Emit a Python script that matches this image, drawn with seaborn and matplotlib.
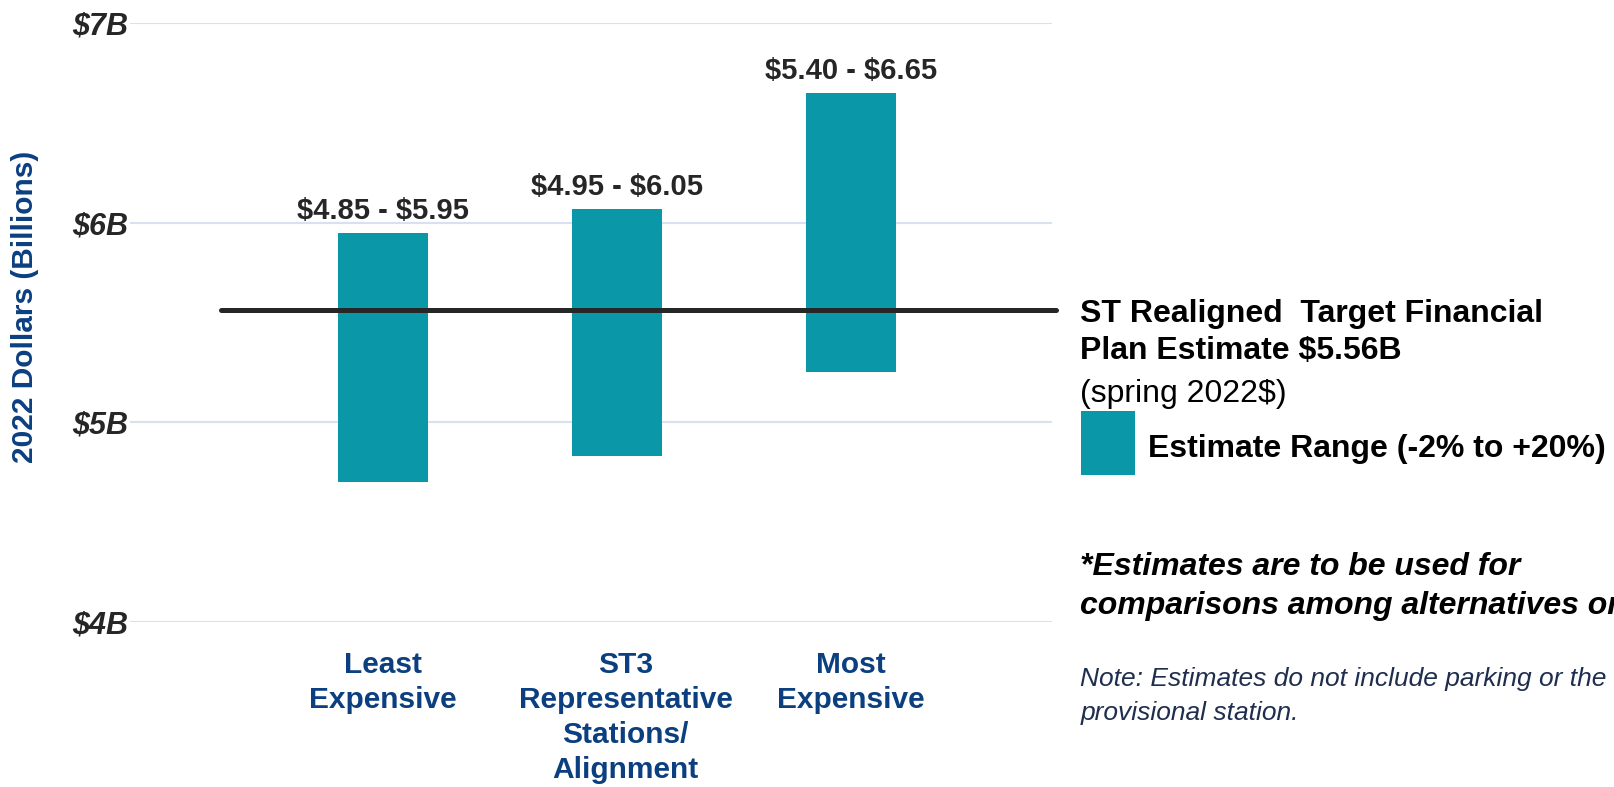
import numpy as np
import matplotlib
matplotlib.use("Agg")
import matplotlib.pyplot as plt
import matplotlib.transforms as mtransforms
from matplotlib.patches import Rectangle
import seaborn as sns

# chart values
categories = ["Least\nExpensive", "ST3\nRepresentative\nStations/\nAlignment", "Most\nExpensive"]
range_labels = ["$4.85 - $5.95", "$4.95 - $6.05", "$5.40 - $6.65"]
bar_low = [4.70, 4.83, 5.25]
bar_high = [5.95, 6.07, 6.65]
target_estimate = 5.56
y_ticks = [4, 5, 6, 7]
y_tick_labels = ["$4B", "$5B", "$6B", "$7B"]

TEAL = "#0A98A8"
NAVY = "#0B3F80"
DARK = "#262626"

sns.set_style("whitegrid", {"grid.color": "#D9E0F1", "axes.edgecolor": "white"})
plt.rcParams["font.family"] = ["Liberation Sans", "DejaVu Sans"]

fig = plt.figure(figsize=(16.15, 7.87), dpi=100)
ax = fig.add_axes([0.0805, 0.2097, 0.5709, 0.7611])

heights = [h - l for h, l in zip(bar_high, bar_low)]
sns.barplot(x=categories, y=heights, bottom=bar_low, color=TEAL, saturation=1,
            width=0.385, errorbar=None, ax=ax, linewidth=0)

ax.set_ylim(4, 7)
ax.set_xlim(-1.08, 2.86)
ax.set_yticks(y_ticks)
ax.set_yticklabels(y_tick_labels, fontsize=22, fontweight="bold", fontstyle="italic", color=DARK)
ax.tick_params(axis="y", length=0, pad=1)
ax.tick_params(axis="x", length=0, pad=21)
for lab in ax.get_xticklabels():
    lab.set_fontsize(21.5)
    lab.set_fontweight("bold")
    lab.set_color(NAVY)
    lab.set_linespacing(1.32)
# middle label sits a little right of its bar in the original
mid = ax.get_xticklabels()[1]
mid.set_transform(mid.get_transform() + mtransforms.ScaledTranslation(0.09, 0, fig.dpi_scale_trans))

ax.grid(axis="y", linewidth=1.5)
ax.grid(axis="x", visible=False)
for s in ax.spines.values():
    s.set_visible(False)
ax.set_xlabel("")
ax.set_ylabel("")

# range labels above each bar
for i, txt in enumerate(range_labels):
    ax.annotate(txt, (i, bar_high[i]), xytext=(0, 5.5), textcoords="offset points",
                ha="center", va="bottom", fontsize=21, fontweight="bold", color=DARK,
                parse_math=False)

# target line
ax.axhline(target_estimate, xmin=0.099, xmax=1.004, color=DARK, linewidth=3.6, clip_on=False, zorder=5)

fig.text(0.0155, 0.610, "2022 Dollars (Billions)", rotation=90, ha="center", va="center",
         fontsize=21.5, fontweight="bold", color=NAVY)

# legend / notes on the right
tx = 0.669
fig.text(tx, 0.6008, "ST Realigned  Target Financial", fontsize=23, fontweight="bold", color="black", va="center")
fig.text(tx, 0.5538, "Plan Estimate $5.56B", fontsize=23, fontweight="bold", color="black", va="center")
fig.text(tx, 0.4992, "(spring 2022$)", fontsize=23, color="black", va="center")
fig.patches.append(Rectangle((0.6693, 0.3964), 0.0334, 0.0813, transform=fig.transFigure,
                             facecolor=TEAL, edgecolor="none"))
fig.text(0.7108, 0.4293, "Estimate Range (-2% to +20%)", fontsize=23, fontweight="bold",
         color="black", va="center")
fig.text(tx, 0.2794, "*Estimates are to be used for", fontsize=23, fontweight="bold",
         fontstyle="italic", color="black", va="center")
fig.text(tx, 0.2298, "comparisons among alternatives only.", fontsize=23, fontweight="bold",
         fontstyle="italic", color="black", va="center")
fig.text(tx, 0.1368, "Note: Estimates do not include parking or the", fontsize=19,
         fontstyle="italic", color="#1F2E4E", va="center")
fig.text(tx, 0.0936, "provisional station.", fontsize=19,
         fontstyle="italic", color="#1F2E4E", va="center")

fig.savefig("out.png", dpi=100)
